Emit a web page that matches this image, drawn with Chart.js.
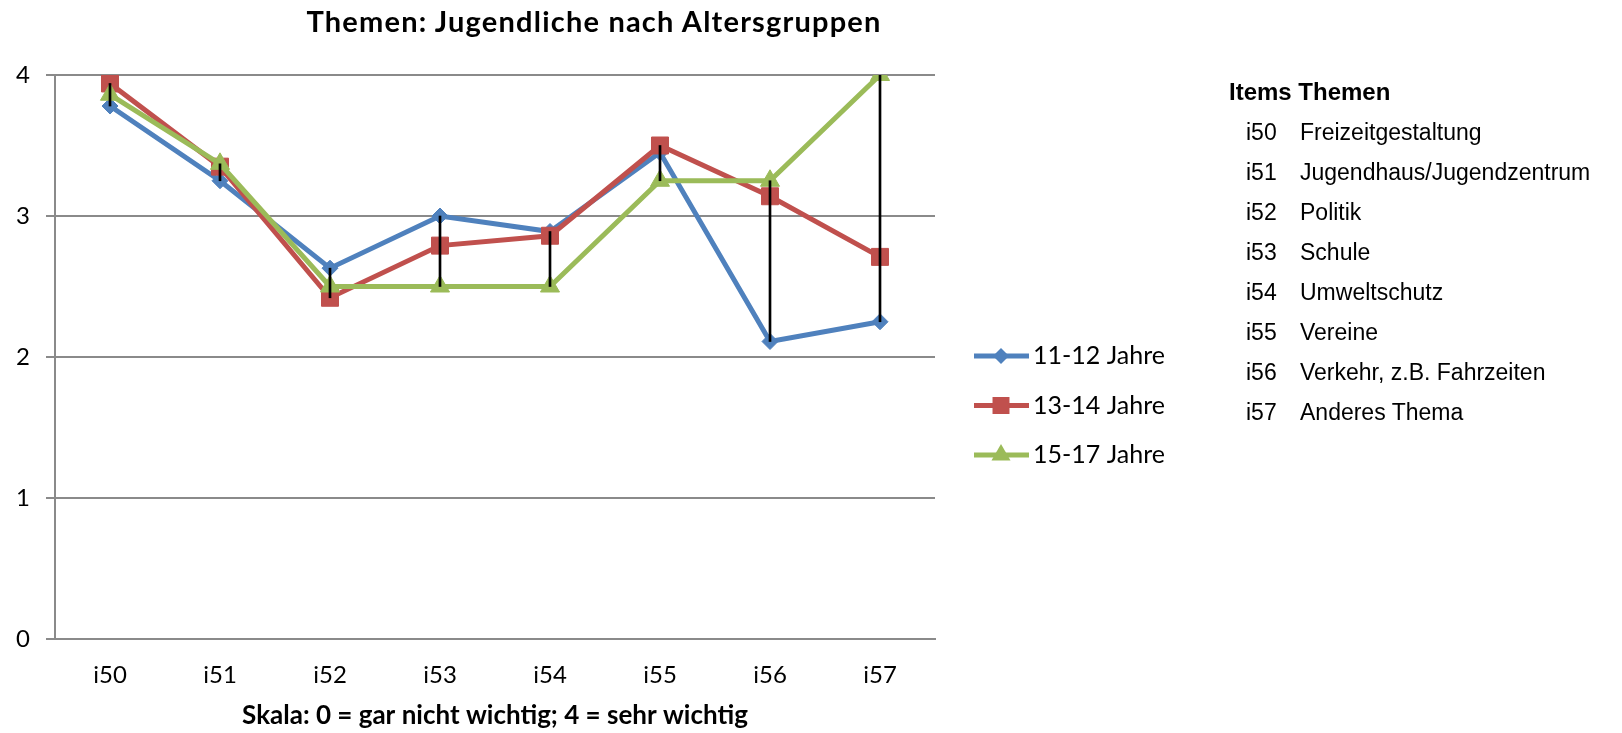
<!DOCTYPE html>
<html>
<head>
<meta charset="utf-8">
<script src="https://cdn.jsdelivr.net/npm/chart.js@4.4.1/dist/chart.umd.min.js"></script>
<style>
  html, body { margin: 0; padding: 0; background: #fff; }
  #wrap { position: relative; width: 1622px; height: 733px; }
  #myChart { position: absolute; left: 0; top: 0; }
  #titel { position: absolute; left: 0; top: 3px; width: 1188px; text-align: center;
           font: bold 29px Lato; letter-spacing: 1.2px; color: #000; }
  #items { position: absolute; left: 1229px; top: 72px; font-family: "Liberation Sans", Arial, sans-serif; color: #000; }
  #items .kopf { font-weight: bold; font-size: 24px; line-height: 40px; height: 40px; }
  #items .zeile { font-size: 23px; line-height: 40px; height: 40px; white-space: nowrap; }
  #items .code { display: inline-block; width: 54px; padding-left: 17px; }
</style>
</head>
<body>
<div id="wrap">
  <canvas id="myChart" width="1622" height="733"></canvas>
  <div id="titel"></div>
  <div id="items"></div>
</div>
<script>
// Daten
const titelText = 'Themen: Jugendliche nach Altersgruppen';
const achsenTitel = 'Skala: 0 = gar nicht wichtig; 4 = sehr wichtig';
const labels = ['i50', 'i51', 'i52', 'i53', 'i54', 'i55', 'i56', 'i57'];
const themen = ['Freizeitgestaltung', 'Jugendhaus/Jugendzentrum', 'Politik', 'Schule',
                'Umweltschutz', 'Vereine', 'Verkehr, z.B. Fahrzeiten', 'Anderes Thema'];
const gruppen = ['11-12 Jahre', '13-14 Jahre', '15-17 Jahre'];
const jahre1112 = [3.78, 3.25, 2.63, 3.00, 2.89, 3.45, 2.11, 2.25];
const jahre1314 = [3.94, 3.35, 2.42, 2.79, 2.86, 3.50, 3.14, 2.71];
const jahre1517 = [3.86, 3.37, 2.50, 2.50, 2.50, 3.25, 3.25, 4.00];
const yTicks = [0, 1, 2, 3, 4];

const farben = ['#4F81BD', '#C0504D', '#9BBB59'];
const symbole = ['rectRot', 'rect', 'triangle'];
const radien = [8, 12, 11];
const reihen = [jahre1112, jahre1314, jahre1517];

// Titel und Themenliste
document.getElementById('titel').textContent = titelText;
let html = '<div class="kopf">Items Themen</div>';
labels.forEach((l, i) => {
  html += '<div class="zeile"><span class="code">' + l + '</span>' + themen[i] + '</div>';
});
document.getElementById('items').innerHTML = html;

// Hoch-Tief-Linien (min bis max je Kategorie)
const hochTief = labels.map((l, i) => {
  const werte = reihen.map(r => r[i]);
  return [Math.min(...werte), Math.max(...werte)];
});

const datasets = reihen.map((r, i) => ({
  type: 'line',
  label: gruppen[i],
  data: r,
  borderColor: farben[i],
  backgroundColor: farben[i],
  borderWidth: 5,
  pointStyle: symbole[i],
  pointRadius: radien[i],
  pointHoverRadius: radien[i],
  pointBorderWidth: 1,
  pointBorderColor: farben[i],
  tension: 0,
  order: 3 - i
}));
datasets.push({
  type: 'bar',
  label: 'hochTief',
  data: hochTief,
  backgroundColor: '#000000',
  barThickness: 2,
  order: 0
});

// Legende selbst zeichnen (Linie mit Symbol in der Mitte)
const legendePlugin = {
  id: 'legende',
  afterDraw(chart) {
    const ctx = chart.ctx;
    ctx.save();
    gruppen.forEach((g, i) => {
      const y = 356 + i * 49.5;
      ctx.strokeStyle = farben[i];
      ctx.lineWidth = 5;
      ctx.beginPath();
      ctx.moveTo(974, y);
      ctx.lineTo(1029, y);
      ctx.stroke();
      ctx.fillStyle = farben[i];
      ctx.strokeStyle = farben[i];
      ctx.lineWidth = 1;
      Chart.helpers.drawPoint(ctx, { pointStyle: symbole[i], rotation: 0, radius: radien[i] }, 1001, y);
      ctx.fillStyle = '#000';
      ctx.font = '25px Lato';
      ctx.textBaseline = 'middle';
      ctx.textAlign = 'left';
      ctx.fillText(g, 1033, y);
    });
    ctx.restore();
  }
};

const ctx = document.getElementById('myChart').getContext('2d');
const myChart = new Chart(ctx, {
  data: { labels: labels, datasets: datasets },
  plugins: [legendePlugin],
  options: {
    responsive: false,
    animation: false,
    layout: { padding: { top: 75, right: 687, left: 0, bottom: 0 } },
    plugins: {
      legend: { display: false },
      tooltip: { enabled: false },
      title: { display: false }
    },
    scales: {
      x: {
        offset: true,
        grid: { display: false },
        border: { display: true, color: '#8a8a8a', width: 2 },
        ticks: { color: '#000', font: { family: 'Lato', size: 24 }, padding: 14 },
        title: { display: true, text: achsenTitel, color: '#000',
                 font: { family: 'Lato', size: 26, weight: 'bold' }, padding: { top: 4, bottom: 2 } },
        afterFit(scale) { scale.height = 94; }
      },
      y: {
        min: 0, max: 4,
        afterBuildTicks(scale) { scale.ticks = yTicks.map(v => ({ value: v })); },
        grid: { color: '#8a8a8a', lineWidth: 2, tickLength: 9 },
        border: { display: true, color: '#8a8a8a', width: 2 },
        ticks: { color: '#000', font: { family: 'Lato', size: 24 }, padding: 16 },
        afterFit(scale) { scale.width = 55; }
      }
    }
  }
});
</script>
</body>
</html>
